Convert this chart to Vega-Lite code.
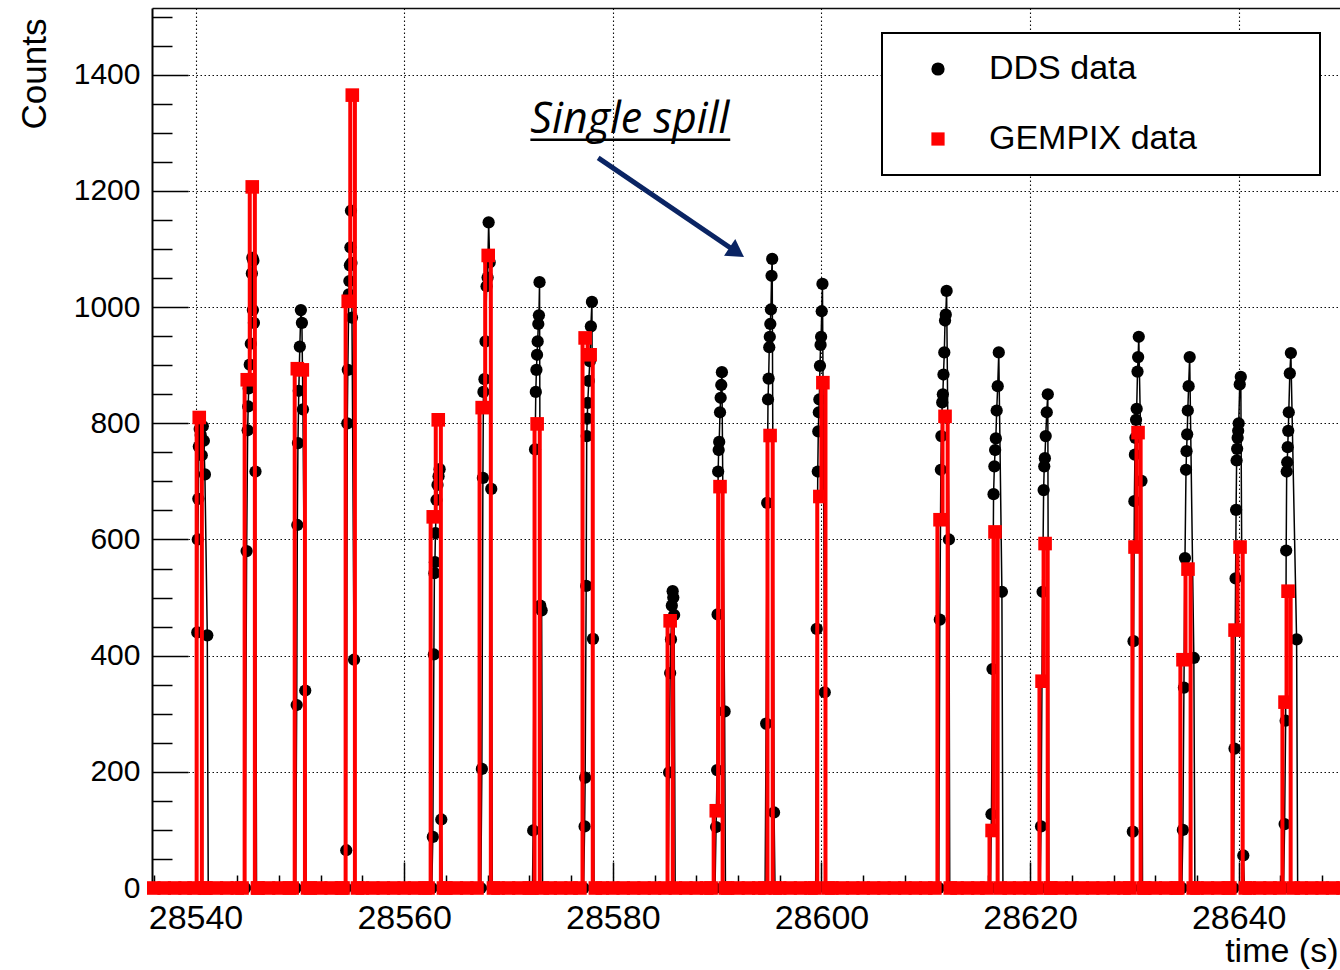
{
  "$schema": "https://vega.github.io/schema/vega-lite/v6.json",
  "width": 1188,
  "height": 880,
  "autosize": {"type": "none"},
  "padding": {"left": 152, "top": 8, "right": 0, "bottom": 82},
  "background": "white",
  "datasets": {
    "dds": [
      {"t":28536,"v":0},{"t":28537.5,"v":0},
      {"t":28540.05,"v":0},{"t":28540.17,"v":440},{"t":28540.22,"v":600},{"t":28540.27,"v":670},{"t":28540.32,"v":760},{"t":28540.4,"v":790},{"t":28540.5,"v":780},{"t":28540.6,"v":745},{"t":28540.7,"v":795},{"t":28540.8,"v":770},{"t":28540.9,"v":712},{"t":28541.13,"v":435},{"t":28541.22,"v":0},
      {"t":28544.75,"v":0},{"t":28544.9,"v":580},{"t":28545.0,"v":788},{"t":28545.05,"v":829},{"t":28545.1,"v":860},{"t":28545.2,"v":901},{"t":28545.3,"v":937},{"t":28545.4,"v":1058},{"t":28545.45,"v":1085},{"t":28545.5,"v":995},{"t":28545.55,"v":1080},{"t":28545.6,"v":973},{"t":28545.75,"v":717},{"t":28545.85,"v":0},
      {"t":28549.6,"v":0},{"t":28549.7,"v":315},{"t":28549.76,"v":625},{"t":28549.82,"v":766},{"t":28549.9,"v":856},{"t":28550.0,"v":932},{"t":28550.1,"v":995},{"t":28550.2,"v":973},{"t":28550.3,"v":824},{"t":28550.52,"v":340},{"t":28550.6,"v":0},
      {"t":28554.35,"v":0},{"t":28554.45,"v":65},{"t":28554.55,"v":800},{"t":28554.6,"v":892},{"t":28554.7,"v":1022},{"t":28554.75,"v":1045},{"t":28554.8,"v":1072},{"t":28554.85,"v":1103},{"t":28554.9,"v":1166},{"t":28554.95,"v":1076},{"t":28555.0,"v":982},{"t":28555.2,"v":393},{"t":28555.3,"v":0},
      {"t":28562.65,"v":0},{"t":28562.75,"v":88},{"t":28562.85,"v":402},{"t":28562.9,"v":542},{"t":28562.95,"v":561},{"t":28563.0,"v":611},{"t":28563.1,"v":668},{"t":28563.2,"v":694},{"t":28563.3,"v":709},{"t":28563.4,"v":721},{"t":28563.56,"v":118},{"t":28563.65,"v":0},
      {"t":28567.35,"v":0},{"t":28567.45,"v":205},{"t":28567.55,"v":706},{"t":28567.6,"v":854},{"t":28567.7,"v":876},{"t":28567.8,"v":941},{"t":28567.9,"v":1036},{"t":28568.0,"v":1051},{"t":28568.1,"v":1146},{"t":28568.2,"v":1077},{"t":28568.35,"v":687},{"t":28568.45,"v":0},
      {"t":28572.3,"v":0},{"t":28572.37,"v":99},{"t":28572.55,"v":755},{"t":28572.62,"v":854},{"t":28572.68,"v":892},{"t":28572.74,"v":918},{"t":28572.8,"v":941},{"t":28572.86,"v":971},{"t":28572.92,"v":986},{"t":28572.98,"v":1043},{"t":28573.05,"v":486},{"t":28573.18,"v":478},{"t":28573.27,"v":0},
      {"t":28577.2,"v":0},{"t":28577.3,"v":106},{"t":28577.35,"v":190},{"t":28577.45,"v":520},{"t":28577.5,"v":778},{"t":28577.55,"v":808},{"t":28577.6,"v":835},{"t":28577.7,"v":873},{"t":28577.8,"v":907},{"t":28577.9,"v":967},{"t":28578.0,"v":1009},{"t":28578.1,"v":429},{"t":28578.2,"v":0},
      {"t":28585.3,"v":0},{"t":28585.4,"v":199},{"t":28585.5,"v":370},{"t":28585.58,"v":428},{"t":28585.66,"v":486},{"t":28585.74,"v":511},{"t":28585.8,"v":500},{"t":28585.88,"v":470},{"t":28585.98,"v":0},
      {"t":28589.8,"v":0},{"t":28589.9,"v":105},{"t":28590.0,"v":203},{"t":28590.05,"v":471},{"t":28590.1,"v":717},{"t":28590.15,"v":754},{"t":28590.2,"v":768},{"t":28590.28,"v":819},{"t":28590.34,"v":844},{"t":28590.4,"v":866},{"t":28590.46,"v":888},{"t":28590.72,"v":304},{"t":28590.8,"v":0},
      {"t":28594.6,"v":0},{"t":28594.7,"v":283},{"t":28594.8,"v":663},{"t":28594.88,"v":841},{"t":28594.94,"v":877},{"t":28595.0,"v":931},{"t":28595.05,"v":949},{"t":28595.1,"v":971},{"t":28595.16,"v":996},{"t":28595.22,"v":1054},{"t":28595.28,"v":1083},{"t":28595.46,"v":130},{"t":28595.55,"v":0},
      {"t":28599.45,"v":0},{"t":28599.55,"v":446},{"t":28599.65,"v":717},{"t":28599.7,"v":786},{"t":28599.75,"v":819},{"t":28599.8,"v":841},{"t":28599.86,"v":899},{"t":28599.92,"v":935},{"t":28599.97,"v":949},{"t":28600.03,"v":993},{"t":28600.1,"v":1040},{"t":28600.32,"v":337},{"t":28600.4,"v":0},
      {"t":28611.25,"v":0},{"t":28611.35,"v":462},{"t":28611.45,"v":720},{"t":28611.5,"v":778},{"t":28611.58,"v":836},{"t":28611.64,"v":850},{"t":28611.7,"v":884},{"t":28611.78,"v":922},{"t":28611.85,"v":977},{"t":28611.92,"v":987},{"t":28612.0,"v":1028},{"t":28612.22,"v":600},{"t":28612.3,"v":0},
      {"t":28616.2,"v":0},{"t":28616.3,"v":127},{"t":28616.4,"v":377},{"t":28616.5,"v":678},{"t":28616.58,"v":726},{"t":28616.65,"v":754},{"t":28616.72,"v":774},{"t":28616.8,"v":822},{"t":28616.9,"v":864},{"t":28617.0,"v":922},{"t":28617.3,"v":510},{"t":28617.4,"v":0},
      {"t":28620.95,"v":0},{"t":28621.05,"v":106},{"t":28621.2,"v":510},{"t":28621.3,"v":685},{"t":28621.36,"v":726},{"t":28621.42,"v":740},{"t":28621.5,"v":778},{"t":28621.6,"v":819},{"t":28621.7,"v":850},{"t":28621.8,"v":0},
      {"t":28629.75,"v":0},{"t":28629.85,"v":97},{"t":28629.92,"v":425},{"t":28630.0,"v":666},{"t":28630.05,"v":746},{"t":28630.1,"v":775},{"t":28630.16,"v":806},{"t":28630.22,"v":825},{"t":28630.3,"v":889},{"t":28630.36,"v":914},{"t":28630.42,"v":949},{"t":28630.68,"v":701},{"t":28630.78,"v":0},
      {"t":28634.55,"v":0},{"t":28634.65,"v":100},{"t":28634.75,"v":345},{"t":28634.85,"v":568},{"t":28634.95,"v":720},{"t":28635.0,"v":752},{"t":28635.06,"v":781},{"t":28635.12,"v":822},{"t":28635.2,"v":864},{"t":28635.3,"v":914},{"t":28635.7,"v":396},{"t":28635.8,"v":0},
      {"t":28639.5,"v":0},{"t":28639.6,"v":240},{"t":28639.7,"v":533},{"t":28639.75,"v":651},{"t":28639.8,"v":736},{"t":28639.85,"v":756},{"t":28639.9,"v":775},{"t":28639.95,"v":787},{"t":28640.0,"v":800},{"t":28640.1,"v":867},{"t":28640.2,"v":880},{"t":28640.44,"v":56},{"t":28640.55,"v":0},
      {"t":28644.3,"v":0},{"t":28644.4,"v":110},{"t":28644.5,"v":288},{"t":28644.55,"v":581},{"t":28644.6,"v":717},{"t":28644.65,"v":733},{"t":28644.7,"v":759},{"t":28644.75,"v":787},{"t":28644.8,"v":819},{"t":28644.9,"v":886},{"t":28645.0,"v":921},{"t":28645.55,"v":428},{"t":28645.65,"v":0},
      {"t":28650,"v":0}
    ],
    "gempix": [
      {"t":28536,"v":0},{"t":28537,"v":0},{"t":28538,"v":0},{"t":28539,"v":0},
      {"t":28539.86,"v":0},{"t":28540.36,"v":810},{"t":28540.86,"v":0},
      {"t":28541,"v":0},{"t":28542,"v":0},{"t":28543,"v":0},{"t":28544,"v":0},
      {"t":28544.46,"v":0},{"t":28544.96,"v":875},{"t":28545.44,"v":1207},{"t":28545.94,"v":0},
      {"t":28546,"v":0},{"t":28547,"v":0},{"t":28548,"v":0},{"t":28549,"v":0},
      {"t":28549.26,"v":0},{"t":28549.76,"v":894},{"t":28550.24,"v":892},{"t":28550.74,"v":0},
      {"t":28551,"v":0},{"t":28552,"v":0},{"t":28553,"v":0},{"t":28554,"v":0},
      {"t":28554.14,"v":0},{"t":28554.64,"v":1010},{"t":28555.03,"v":1365},{"t":28555.53,"v":0},
      {"t":28556,"v":0},{"t":28557,"v":0},{"t":28558,"v":0},{"t":28559,"v":0},{"t":28560,"v":0},{"t":28561,"v":0},{"t":28562,"v":0},
      {"t":28562.29,"v":0},{"t":28562.79,"v":639},{"t":28563.27,"v":806},{"t":28563.77,"v":0},
      {"t":28564,"v":0},{"t":28565,"v":0},{"t":28566,"v":0},
      {"t":28566.98,"v":0},{"t":28567.48,"v":827},{"t":28568.06,"v":1089},{"t":28568.56,"v":0},
      {"t":28569,"v":0},{"t":28570,"v":0},{"t":28571,"v":0},{"t":28572,"v":0},
      {"t":28572.25,"v":0},{"t":28572.75,"v":799},{"t":28573.25,"v":0},
      {"t":28574,"v":0},{"t":28575,"v":0},{"t":28576,"v":0},
      {"t":28576.85,"v":0},{"t":28577.35,"v":947},{"t":28577.83,"v":918},{"t":28578.33,"v":0},
      {"t":28579,"v":0},{"t":28580,"v":0},{"t":28581,"v":0},{"t":28582,"v":0},{"t":28583,"v":0},{"t":28584,"v":0},{"t":28585,"v":0},
      {"t":28585.5,"v":460},
      {"t":28586,"v":0},{"t":28587,"v":0},{"t":28588,"v":0},{"t":28589,"v":0},
      {"t":28589.42,"v":0},{"t":28589.92,"v":133},{"t":28590.28,"v":691},{"t":28590.78,"v":0},
      {"t":28591,"v":0},{"t":28592,"v":0},{"t":28593,"v":0},{"t":28594,"v":0},
      {"t":28594.58,"v":0},{"t":28595.08,"v":779},{"t":28595.58,"v":0},
      {"t":28596,"v":0},{"t":28597,"v":0},{"t":28598,"v":0},{"t":28599,"v":0},
      {"t":28599.35,"v":0},{"t":28599.85,"v":674},{"t":28600.14,"v":870},{"t":28600.64,"v":0},
      {"t":28601,"v":0},{"t":28602,"v":0},{"t":28603,"v":0},{"t":28604,"v":0},{"t":28605,"v":0},{"t":28606,"v":0},{"t":28607,"v":0},{"t":28608,"v":0},{"t":28609,"v":0},{"t":28610,"v":0},
      {"t":28610.87,"v":0},{"t":28611.37,"v":634},{"t":28611.85,"v":812},{"t":28612.35,"v":0},
      {"t":28613,"v":0},{"t":28614,"v":0},{"t":28615,"v":0},
      {"t":28615.86,"v":0},{"t":28616.36,"v":99},{"t":28616.64,"v":613},{"t":28617.14,"v":0},
      {"t":28618,"v":0},{"t":28619,"v":0},{"t":28620,"v":0},
      {"t":28620.65,"v":0},{"t":28621.15,"v":356},{"t":28621.44,"v":593},{"t":28621.94,"v":0},
      {"t":28622,"v":0},{"t":28623,"v":0},{"t":28624,"v":0},{"t":28625,"v":0},{"t":28626,"v":0},{"t":28627,"v":0},{"t":28628,"v":0},{"t":28629,"v":0},
      {"t":28629.56,"v":0},{"t":28630.06,"v":587},{"t":28630.35,"v":784},{"t":28630.85,"v":0},
      {"t":28631,"v":0},{"t":28632,"v":0},{"t":28633,"v":0},{"t":28634,"v":0},
      {"t":28634.16,"v":0},{"t":28634.66,"v":393},{"t":28635.14,"v":549},{"t":28635.64,"v":0},
      {"t":28636,"v":0},{"t":28637,"v":0},{"t":28638,"v":0},{"t":28639,"v":0},
      {"t":28639.15,"v":0},{"t":28639.65,"v":444},{"t":28640.13,"v":587},{"t":28640.63,"v":0},
      {"t":28641,"v":0},{"t":28642,"v":0},{"t":28643,"v":0},
      {"t":28643.94,"v":0},{"t":28644.44,"v":320},{"t":28644.73,"v":511},{"t":28645.23,"v":0},
      {"t":28646,"v":0},{"t":28647,"v":0},{"t":28648,"v":0},{"t":28649,"v":0},{"t":28650,"v":0}
    ],
    "note": [{"t": 28572.1, "v": 1300, "label": "Single spill"}],
    "underline": [{"t": 28572.1, "t2": 28591.26, "v": 1288}],
    "arrow": [{"t": 28578.6, "v": 1257, "t2": 28591.89, "v2": 1094.5}],
    "arrowhead": [{"t": 28591.89, "v": 1094.5}]
  },
  "encoding": {
    "x": {
      "field": "t", "type": "quantitative",
      "scale": {"domain": [28535.83, 28649.71], "nice": false, "zero": false},
      "axis": {
        "title": "time (s)",
        "values": [28536,28540,28544,28548,28552,28556,28560,28564,28568,28572,28576,28580,28584,28588,28592,28596,28600,28604,28608,28612,28616,28620,28624,28628,28632,28636,28640,28644,28648],
        "format": "d",
        "labelExpr": "datum.value % 20 === 0 ? datum.label : ''",
        "labelFontSize": 34, "labelFont": "Liberation Sans", "labelColor": "black",
        "labelPadding": 39, "labelFlush": false, "labelOverlap": false, "labelBound": false,
        "tickSize": -26, "tickColor": "black", "tickWidth": 1.5,
        "tickDash": {"condition": {"test": "datum.value % 20 !== 0", "value": [13, 300]}, "value": [100, 0]},
        "grid": true, "gridColor": "black", "gridDash": [1.5, 2.5], "gridWidth": 1.1,
        "gridOpacity": {"condition": {"test": "datum.value % 20 === 0", "value": 0.95}, "value": 0},
        "domainColor": "black", "domainWidth": 2,
        "titleFont": "Liberation Sans", "titleFontSize": 34, "titleFontWeight": "normal", "titleColor": "black",
        "titleAnchor": "end", "titleAlign": "right", "titleBaseline": "alphabetic", "titleX": 1186, "titleY": 73
      }
    },
    "y": {
      "field": "v", "type": "quantitative",
      "scale": {"domain": [0, 1515], "nice": false, "zero": false},
      "axis": {
        "title": "Counts",
        "values": [0,50,100,150,200,250,300,350,400,450,500,550,600,650,700,750,800,850,900,950,1000,1050,1100,1150,1200,1250,1300,1350,1400,1450,1500,1515],
        "format": "d",
        "labelExpr": "datum.value % 200 === 0 ? datum.label : ''",
        "labelFontSize": 30, "labelFont": "Liberation Sans", "labelColor": "black",
        "labelPadding": 48, "labelFlush": false, "labelOverlap": false, "labelBound": false,
        "tickSize": -36, "tickColor": "black", "tickWidth": 1.5,
        "tickOpacity": {"condition": {"test": "datum.value === 1515", "value": 0}, "value": 1},
        "tickDash": {"condition": {"test": "datum.value % 200 !== 0", "value": [20, 300]}, "value": [100, 0]},
        "grid": true, "gridColor": "black",
        "gridDash": {"condition": {"test": "datum.value === 1515", "value": [2000, 0]}, "value": [1.5, 2.5]},
        "gridWidth": {"condition": {"test": "datum.value === 1515", "value": 1.5}, "value": 1.1},
        "gridOpacity": {"condition": {"test": "(datum.value % 200 === 0 && datum.value > 0) || datum.value === 1515", "value": 0.95}, "value": 0},
        "domainColor": "black", "domainWidth": 2,
        "titleFont": "Liberation Sans", "titleFontSize": 35, "titleFontWeight": "normal", "titleColor": "black",
        "titleAngle": -90, "titleAnchor": "end", "titleAlign": "right", "titleBaseline": "alphabetic", "titleX": -107, "titleY": 10
      }
    }
  },
  "layer": [
    {
      "data": {"name": "dds"},
      "mark": {"type": "line", "color": "black", "strokeWidth": 1.5}
    },
    {
      "data": {"name": "dds"},
      "mark": {"type": "point", "filled": true, "opacity": 1, "size": 150, "strokeWidth": 0},
      "encoding": {
        "color": {
          "datum": "DDS data", "type": "nominal",
          "scale": {"domain": ["DDS data", "GEMPIX data"], "range": ["black", "#ff0000"]},
          "legend": {
            "title": null, "orient": "none", "legendX": 730, "legendY": 25,
            "padding": 19, "strokeColor": "black", "fillColor": "white",
            "rowPadding": 36, "labelFontSize": 34, "labelFont": "Liberation Sans", "labelColor": "black",
            "labelOffset": 34, "symbolOffset": 20, "symbolSize": 175, "symbolStrokeWidth": 0, "labelLimit": 800,
            "labelExpr": "datum.label + '\u00a0\u00a0\u00a0\u00a0\u00a0\u00a0\u00a0\u00a0\u00a0\u00a0\u00a0\u200b'"
          }
        },
        "shape": {
          "datum": "DDS data", "type": "nominal",
          "scale": {"domain": ["DDS data", "GEMPIX data"], "range": ["circle", "square"]}
        }
      }
    },
    {
      "data": {"name": "gempix"},
      "mark": {"type": "line", "color": "#ff0000", "strokeWidth": 4, "interpolate": "step"}
    },
    {
      "data": {"name": "gempix"},
      "mark": {"type": "point", "filled": true, "opacity": 1, "size": 185, "strokeWidth": 0},
      "encoding": {
        "color": {"datum": "GEMPIX data", "type": "nominal"},
        "shape": {"datum": "GEMPIX data", "type": "nominal"}
      }
    },
    {
      "data": {"name": "underline"},
      "mark": {"type": "rule", "color": "black", "strokeWidth": 2.5},
      "encoding": {"x2": {"field": "t2"}}
    },
    {
      "data": {"name": "note"},
      "mark": {"type": "text", "font": "Open Sans", "fontStyle": "italic", "fontSize": 43, "align": "left", "baseline": "alphabetic", "color": "black"},
      "encoding": {"text": {"field": "label"}}
    },
    {
      "data": {"name": "arrow"},
      "mark": {"type": "rule", "color": "#0a2463", "strokeWidth": 5},
      "encoding": {"x2": {"field": "t2"}, "y2": {"field": "v2"}}
    },
    {
      "data": {"name": "arrowhead"},
      "mark": {"type": "point", "shape": "triangle-right", "filled": true, "opacity": 1, "size": 400, "angle": 34.2, "color": "#0a2463", "strokeWidth": 0}
    }
  ],
  "config": {
    "font": "Liberation Sans",
    "view": {"stroke": null},
    "legend": {"strokeWidth": 2}
  }
}
